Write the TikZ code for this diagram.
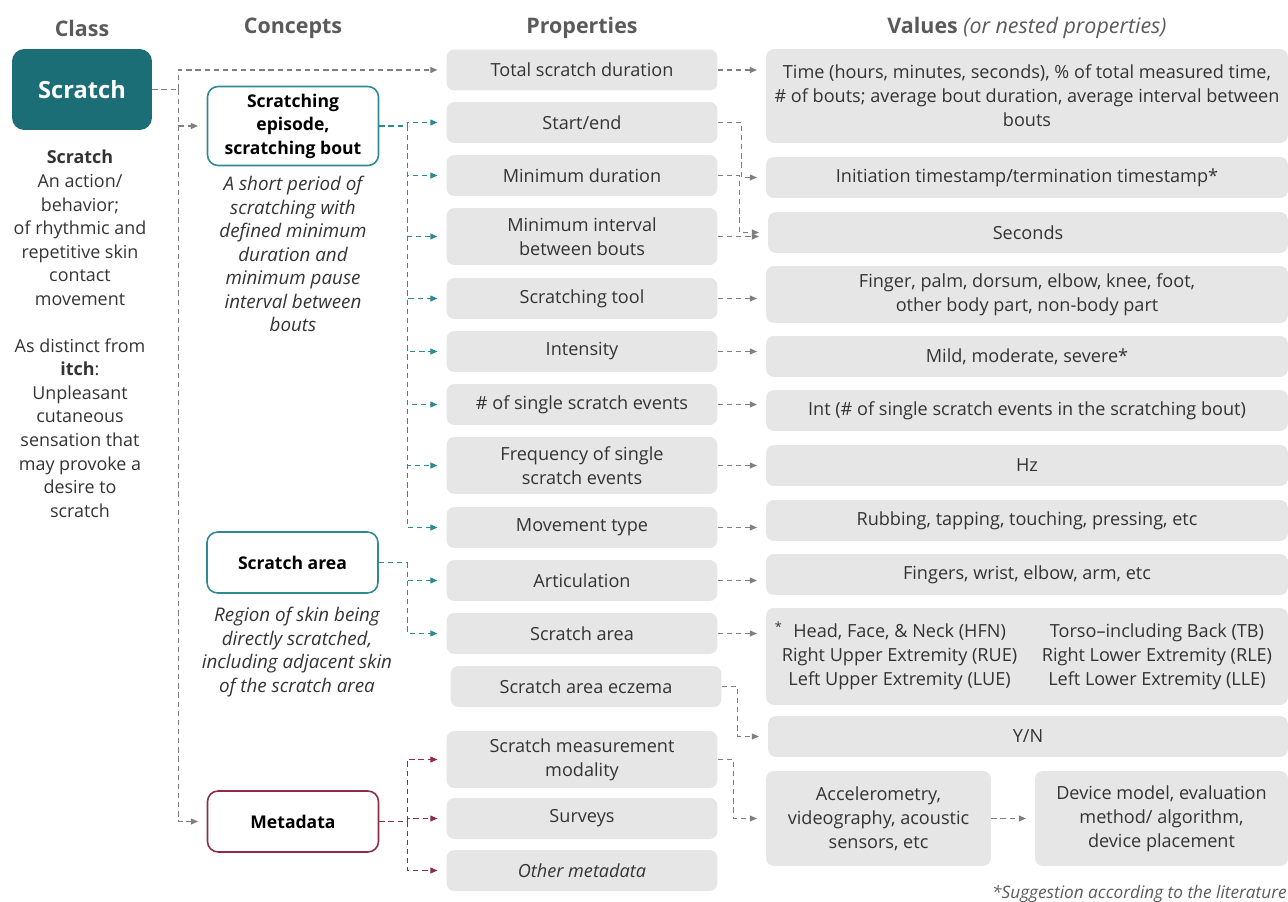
\documentclass[tikz,border=0pt]{standalone}
\usepackage{fontspec}
\setmainfont{Open Sans}
\usetikzlibrary{arrows.meta,positioning}

\definecolor{tealfill}{HTML}{1B6E76}
\definecolor{tealline}{HTML}{2E8A92}
\definecolor{metared}{HTML}{8E2C48}
\definecolor{boxgray}{HTML}{E6E6E6}
\definecolor{arrgray}{HTML}{7F7F7F}
\definecolor{txt}{HTML}{333333}
\definecolor{headgray}{HTML}{5A5A5A}

\begin{document}
\begin{tikzpicture}[x=0.02cm, y=-0.02cm,
        font=\fontsize{10.3}{13.6}\selectfont, text=txt,
        prop/.style={fill=boxgray, rounded corners=4.5pt, minimum width=5.42cm, minimum height=0.82cm, align=center, inner sep=2pt},
        val/.style={fill=boxgray, rounded corners=4.5pt, minimum width=10.44cm, minimum height=0.82cm, align=center, inner sep=2pt},
        concept/.style={draw, line width=0.9pt, rounded corners=6pt, fill=white, minimum width=3.42cm, align=center, font=\fontsize{10}{13.4}\selectfont\bfseries, text=black},
        head/.style={font=\fontsize{12.2}{14}\selectfont\bfseries, text=headgray},
        desc/.style={align=center, font=\fontsize{10.7}{13.4}\selectfont\itshape, inner sep=0pt},
        link/.style={dash pattern=on 3pt off 2.2pt, line width=0.6pt},
        tip/.style={-{Triangle[length=4pt,width=3.4pt]}, shorten >=5pt},
        gline/.style={link, draw=arrgray},
        garrow/.style={link, draw=arrgray, tip},
        tarrow/.style={link, draw=tealline, tip},
        rarrow/.style={link, draw=metared, tip}]
        \useasboundingbox (0,0) rectangle (1288,902);

        % column heads
        \node[head] (hClass) at (82,28) {Class};
        \node[head] (hConc) at (293,28) {Concepts};
        \node[head] (hProp) at (582,28) {Properties};
        \node[head] (hVal) at (1027,28) {Values \textmd{\itshape (or nested properties)}};

        % class
        \node[fill=tealfill, rounded corners=7pt, minimum width=2.8cm, minimum height=1.62cm, text=white, font=\fontsize{13.5}{16}\selectfont\bfseries] (scratch) at (82,89.5) {Scratch};
        \node[align=center, anchor=north, inner sep=0pt, font=\fontsize{10.2}{13.4}\selectfont] (scratchTxt) at (80,150) {\textbf{Scratch}\\An action/\\behavior;\\of rhythmic and\\repetitive skin\\contact\\movement\\[13.4pt]As distinct from\\\textbf{itch}:\\Unpleasant\\cutaneous\\sensation that\\may provoke a\\desire to\\scratch};

        % concepts
        \node[concept, draw=tealline, minimum height=1.58cm] (episode) at (293,126) {Scratching\\episode,\\scratching bout};
        \node[desc, anchor=north] (episodeTxt) at (293,176) {A short period of\\scratching with\\defined minimum\\duration and\\minimum pause\\interval between\\bouts};
        \node[concept, draw=tealline, minimum height=1.22cm] (area) at (292.5,562.5) {Scratch area};
        \node[desc, anchor=north] (areaTxt) at (297,607) {Region of skin being\\directly scratched,\\including adjacent skin\\of the scratch area};
        \node[concept, draw=metared, minimum height=1.22cm] (meta) at (293,821.5) {Metadata};

        % properties
        \node[prop] (pTotal) at (582,70) {Total scratch duration};
        \node[prop] (pStart) at (582,122.5) {Start/end};
        \node[prop] (pMin) at (582,175.5) {Minimum duration};
        \node[prop, minimum height=1.14cm] (pInt) at (582,236.5) {Minimum interval\\between bouts};
        \node[prop] (pTool) at (582,298.5) {Scratching tool};
        \node[prop] (pIntens) at (582,351.5) {Intensity};
        \node[prop] (pNum) at (582,404.5) {\# of single scratch events};
        \node[prop, minimum height=1.14cm] (pFreq) at (582,465.5) {Frequency of single\\scratch events};
        \node[prop] (pMove) at (582,527.5) {Movement type};
        \node[prop] (pArt) at (582,580.5) {Articulation};
        \node[prop] (pArea) at (582,633.5) {Scratch area};
        \node[prop] (pEcz) at (586,686.5) {Scratch area eczema};
        \node[prop, minimum height=1.14cm] (pMod) at (582,759.5) {Scratch measurement\\modality};
        \node[prop] (pSurv) at (582,818.5) {Surveys};
        \node[prop] (pOther) at (582,870.5) {\itshape Other metadata};

        % values
        \node[val, minimum height=1.88cm] (v1) at (1027,96) {Time (hours, minutes, seconds), \% of total measured time,\\\# of bouts; average bout duration, average interval between\\bouts};
        \node[val] (v2) at (1027,177.5) {Initiation timestamp/termination timestamp*};
        \node[val, minimum width=10.4cm] (v3) at (1028,232.5) {Seconds};
        \node[val, minimum height=1.14cm] (v4) at (1027,294.5) {Finger, palm, dorsum, elbow, knee, foot,\\other body part, non-body part};
        \node[val] (v5) at (1027,356.5) {Mild, moderate, severe*};
        \node[val] (v6) at (1027,410.5) {Int (\# of single scratch events in the scratching bout)};
        \node[val] (v7) at (1027,465.5) {Hz};
        \node[val] (v8) at (1027,520.5) {Rubbing, tapping, touching, pressing, etc};
        \node[val] (v9) at (1027,574.5) {Fingers, wrist, elbow, arm, etc};
        \node[val, minimum height=1.94cm] (v10) at (1027,656.5) {\begin{tabular}{@{}c@{\hspace{14pt}}c@{}}
            \llap{\textsuperscript{*}\hspace{6pt}}Head, Face, \& Neck (HFN) & Torso--including Back (TB)\\
            Right Upper Extremity (RUE) & Right Lower Extremity (RLE)\\
            Left Upper Extremity (LUE) & Left Lower Extremity (LLE)
          \end{tabular}};
        \node[val, minimum width=10.4cm] (v11) at (1028,736.5) {Y/N};
        \node[val, minimum width=4.5cm, minimum height=1.9cm] (v12) at (878.5,818.5) {Accelerometry,\\videography, acoustic\\sensors, etc};
        \node[val, minimum width=5.06cm, minimum height=1.9cm] (v13) at (1161.5,818.5) {Device model, evaluation\\method/ algorithm,\\device placement};

        \node[anchor=east, inner sep=0pt, text=headgray, font=\fontsize{9.8}{12}\selectfont\itshape] (note) at (1287,894) {*Suggestion according to the literature};

        % class to concepts
        \draw[gline] (scratch.east) -- ++(26,0) coordinate (sTrunk);
        \draw[garrow] (sTrunk) |- (pTotal.west);
        \draw[garrow] (sTrunk) |- (episode.west);
        \draw[garrow] (sTrunk) |- (meta.west);

        % concepts to properties
        \draw[gline, draw=tealline] (episode.east) -- ++(28,0) coordinate (eTrunk);
        \foreach \p in {pStart,pMin,pInt,pTool,pIntens,pNum,pFreq,pMove}
          \draw[tarrow] (eTrunk) |- (\p.west);
        \draw[gline, draw=tealline] (area.east) -- ++(29,0) coordinate (aTrunk);
        \foreach \p in {pArt,pArea}
          \draw[tarrow] (aTrunk) |- (\p.west);
        \draw[gline, draw=metared] (meta.east) -- ++(28,0) coordinate (mTrunk);
        \foreach \p in {pMod,pSurv,pOther}
          \draw[rarrow] (mTrunk) |- (\p.west);

        % properties to values
        \draw[garrow] (pTotal.east) -- (pTotal.east -| v1.west);
        \draw[garrow] (pStart.east) -- ++(24,0) |- (v2.west);
        \draw[garrow] (pMin.east) -- ++(22,0) |- (v3.west);
        \foreach \p/\v in {pInt/v3,pTool/v4,pIntens/v5,pNum/v6,pFreq/v7,pMove/v8,pArt/v9,pArea/v10}
          \draw[garrow] (\p.east) -- (\p.east -| \v.west);
        \draw[garrow] (pEcz.east) -- ++(16,0) |- (v11.west);
        \draw[garrow] (pMod.east) -- ++(16,0) |- (v12.west);
        \draw[garrow] (v12.east) -- (v13.west);
\end{tikzpicture}
\end{document}
